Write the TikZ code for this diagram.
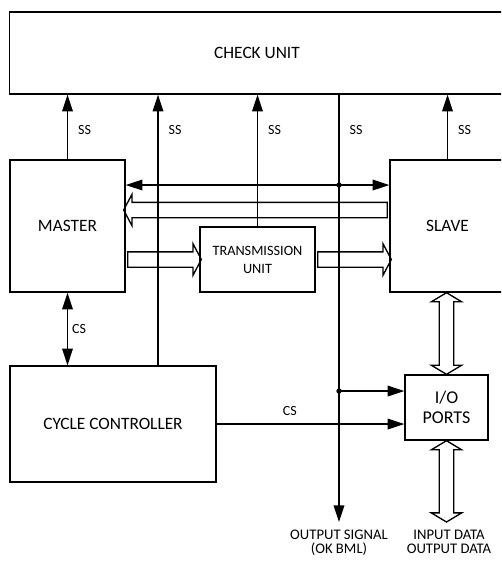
\documentclass[tikz,border=0pt]{standalone}
\usepackage{fontspec}
\setmainfont{Carlito}
\usetikzlibrary{arrows.meta,calc,shapes.arrows}

\begin{document}
\begin{tikzpicture}[
  x=0.75pt, y=-0.75pt,
  >={Triangle[length=12.5pt,width=8pt]},
  line width=1pt,
  font=\fontsize{13}{16}\selectfont,
  blk/.style={draw, inner sep=0pt, align=center},
  sig/.style={->},
  lbl/.style={font=\fontsize{10.5}{12}\selectfont, inner sep=0pt},
  fat/.style={single arrow, draw, inner xsep=0pt, inner ysep=5.25pt,
              single arrow head extend=6pt,
              single arrow tip angle=124, sloped, allow upside down},
  dfat/.style={double arrow, draw, inner xsep=0pt, inner ysep=4.9pt,
               double arrow head extend=6pt,
               double arrow tip angle=118, sloped, allow upside down},
  dot/.style={circle, fill, inner sep=0pt, minimum size=4pt},
]
\clip (0,0) rectangle (501,561);

% blocks
\node[blk, minimum width=371pt, minimum height=61.5pt] (check) at (257,53) {CHECK UNIT};
\node[blk, minimum width=86.25pt, minimum height=99pt] (master) at (67.5,226) {MASTER};
\node[blk, minimum width=86.25pt, minimum height=99pt] (slave) at (447.5,226) {SLAVE};
\node[blk, minimum width=86.25pt, minimum height=48.75pt,
      font=\fontsize{10.7}{13.5}\selectfont] (trans) at (257.5,259.5) {TRANSMISSION\\UNIT};
\node[blk, minimum width=154.5pt, minimum height=87pt] (cycle) at (113,424) {CYCLE CONTROLLER};
\node[blk, minimum width=62.25pt, minimum height=48.75pt,
      font=\fontsize{13.5}{15}\selectfont] (io) at (446.5,407.5) {I/O\\PORTS};

% helper points
\coordinate (bus) at (158,0);
\coordinate (outp) at (339,522);
\coordinate (ssrow) at (0,130);
\coordinate (ybus) at (0,185);
\coordinate (yback) at (0,210);
\coordinate (jn) at (339,391);

% SS lines up to the check unit
\draw[sig] (master.north) -- (master.north |- check.south);
\draw[sig] (cycle.north -| bus) -- (bus |- check.south);
\draw[sig] (trans.north) -- (trans.north |- check.south);
\draw[sig] (slave.north) -- (slave.north |- check.south);
\draw[sig] (check.south -| outp) -- (outp);
\foreach \p/\n in {master/1, bus/2, trans/3, outp/4, slave/5}
  \node[lbl, anchor=west, xshift=7.5pt] (ss\n) at (\p |- ssrow) {SS};

% master <-> slave
\draw[<->] (master.east |- ybus) -- (slave.west |- ybus);
\node[dot] (jbus) at (outp |- ybus) {};

% wide data paths
\path let \p1=($(slave.west |- yback)-(master.east |- yback)$), \n1={veclen(\x1,\y1)} in
  (slave.west |- yback) -- node[fat, minimum height=\n1] {} (master.east |- yback);
\path let \p1=($(trans.west)-(master.east |- trans)$), \n1={veclen(\x1,\y1)} in
  (master.east |- trans) -- node[fat, minimum height=\n1] {} (trans.west);
\path let \p1=($(slave.west |- trans)-(trans.east)$), \n1={veclen(\x1,\y1)} in
  (trans.east) -- node[fat, minimum height=\n1] {} (slave.west |- trans);
\path let \p1=($(io.north)-(io.north |- slave.south)$), \n1={veclen(\x1,\y1)} in
  (io.north |- slave.south) -- node[dfat, minimum height=\n1] {} (io.north);
\path let \p1=($(io.south |- outp)-(io.south)$), \n1={veclen(\x1,\y1)} in
  (io.south) -- node[dfat, minimum height=\n1] {} (io.south |- outp);

% cycle controller links
\draw[<->] (master.south) -- node[lbl, right, xshift=3pt] (cs1) {CS} (master.south |- cycle.north);
\draw[sig] (cycle.east) -- node[lbl, above, pos=0.39, yshift=6pt] (cs2) {CS} (cycle.east -| io.west);
\draw[sig] (jn) -- (jn -| io.west);
\node[dot] (jio) at (jn) {};

% outputs
\node[lbl, font=\fontsize{11}{10.75}\selectfont, align=center, anchor=north]
  (outlbl) at (339,529) {OUTPUT SIGNAL\\(OK BML)};
\node[lbl, font=\fontsize{11}{10.75}\selectfont, align=center, anchor=north]
  (iolbl) at (449,529) {INPUT DATA\\OUTPUT DATA};
\end{tikzpicture}
\end{document}
